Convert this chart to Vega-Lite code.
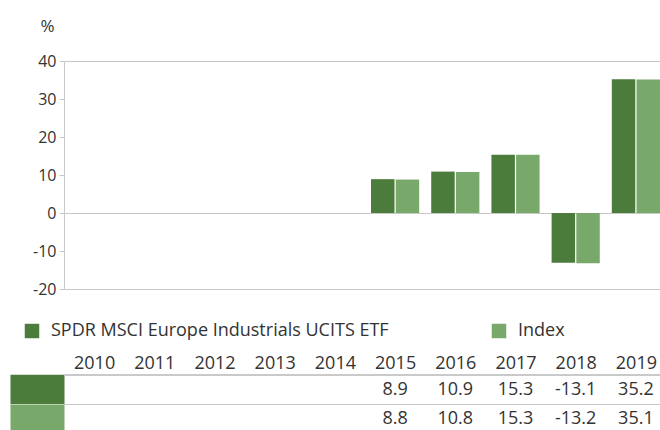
{
  "$schema": "https://vega.github.io/schema/vega-lite/v6.json",
  "padding": {"left": -5, "top": 17, "right": 0, "bottom": 0},
  "background": "white",
  "config": {
    "view": {"stroke": null},
    "font": "Open Sans",
    "text": {"font": "Open Sans"},
    "locale": {"number": {"decimal": ".", "thousands": ",", "grouping": [3], "currency": ["", ""], "minus": "-"}}
  },
  "datasets": {
    "perf": [
      {"year": "2015", "series": "SPDR MSCI Europe Industrials UCITS ETF", "value": 8.9},
      {"year": "2016", "series": "SPDR MSCI Europe Industrials UCITS ETF", "value": 10.9},
      {"year": "2017", "series": "SPDR MSCI Europe Industrials UCITS ETF", "value": 15.3},
      {"year": "2018", "series": "SPDR MSCI Europe Industrials UCITS ETF", "value": -13.1},
      {"year": "2019", "series": "SPDR MSCI Europe Industrials UCITS ETF", "value": 35.2},
      {"year": "2015", "series": "Index", "value": 8.8},
      {"year": "2016", "series": "Index", "value": 10.8},
      {"year": "2017", "series": "Index", "value": 15.3},
      {"year": "2018", "series": "Index", "value": -13.2},
      {"year": "2019", "series": "Index", "value": 35.1}
    ]
  },
  "spacing": 57,
  "vconcat": [
    {
      "width": 602,
      "height": 228,
      "data": {"name": "perf"},
      "mark": {"type": "bar"},
      "encoding": {
        "x": {
          "field": "year", "type": "ordinal",
          "scale": {"domain": ["2010","2011","2012","2013","2014","2015","2016","2017","2018","2019"], "paddingInner": 0.2, "paddingOuter": 0.1},
          "axis": null
        },
        "xOffset": {
          "field": "series", "type": "nominal",
          "scale": {"domain": ["SPDR MSCI Europe Industrials UCITS ETF", "Index"], "paddingInner": 0.05, "paddingOuter": 0}
        },
        "y": {
          "field": "value", "type": "quantitative",
          "scale": {"domain": [-20, 40], "nice": false, "zero": false},
          "axis": {
            "values": [-20, -10, 0, 10, 20, 30, 40],
            "format": "d",
            "title": "%",
            "titleAngle": 0,
            "titleX": -17,
            "titleY": -30,
            "titleAlign": "center",
            "titleBaseline": "alphabetic",
            "titleFontSize": 17,
            "titleFontWeight": "normal",
            "titleColor": "#333333",
            "titleFont": "Open Sans",
            "labelFont": "Open Sans",
            "labelFontSize": 16,
            "labelColor": "#333333",
            "labelPadding": 3,
            "tickSize": 5,
            "tickColor": "#c8c8c8",
            "domainColor": "#c8c8c8",
            "grid": true,
            "gridColor": "#c8c8c8",
            "gridOpacity": {"condition": {"test": "datum.value === 40 || datum.value === 0 || datum.value === -20", "value": 1}, "value": 0}
          }
        },
        "color": {
          "field": "series", "type": "nominal",
          "scale": {"domain": ["SPDR MSCI Europe Industrials UCITS ETF", "Index"], "range": ["#4b7c3b", "#79a86b"]},
          "legend": {
            "orient": "none",
            "legendX": -41,
            "legendY": 261,
            "direction": "horizontal",
            "title": null,
            "symbolType": "square",
            "symbolSize": 210,
            "symbolStrokeWidth": 0,
            "labelFont": "Open Sans",
            "labelFontSize": 18,
            "labelColor": "#333333",
            "labelOffset": 10,
            "labelLimit": 0,
            "columnPadding": 101
          }
        }
      }
    },
    {
      "width": 602,
      "height": 59,
      "data": {"name": "perf"},
      "layer": [
        {
          "mark": {"type": "rule", "color": "#c8c8c8", "strokeWidth": 1},
          "encoding": {
            "y": {
              "field": "series", "type": "nominal", "bandPosition": 0,
              "scale": {"domain": ["SPDR MSCI Europe Industrials UCITS ETF", "Index"], "paddingInner": 0, "paddingOuter": 0},
              "axis": {
                "title": null,
                "labels": false,
                "domain": false,
                "grid": false,
                "ticks": true,
                "tickSize": 54,
                "tickWidth": 29.5,
                "tickCap": "butt",
                "tickColor": {"condition": {"test": "datum.value === 'Index'", "value": "#79a86b"}, "value": "#4b7c3b"}
              }
            }
          }
        },
        {
          "mark": {"type": "text", "fontSize": 18, "color": "#333333", "font": "Open Sans"},
          "encoding": {
            "x": {
              "field": "year", "type": "ordinal",
              "scale": {"domain": ["2010","2011","2012","2013","2014","2015","2016","2017","2018","2019"], "paddingInner": 0.2, "paddingOuter": 0.1},
              "axis": {
                "orient": "top",
                "title": null,
                "labelAngle": 0,
                "labelFont": "Open Sans",
                "labelFontSize": 18,
                "labelColor": "#333333",
                "labelBaseline": "alphabetic",
                "labelPadding": 7,
                "ticks": false,
                "tickSize": 0,
                "domain": false,
                "grid": false
              }
            },
            "y": {
              "field": "series", "type": "nominal",
              "scale": {"domain": ["SPDR MSCI Europe Industrials UCITS ETF", "Index"], "paddingInner": 0, "paddingOuter": 0},
              "axis": {
                "title": null,
                "labels": false,
                "domain": false,
                "grid": false,
                "ticks": true,
                "tickSize": 54,
                "tickWidth": 29.5,
                "tickCap": "butt",
                "tickColor": {"condition": {"test": "datum.value === 'Index'", "value": "#79a86b"}, "value": "#4b7c3b"}
              }
            },
            "text": {"field": "value", "type": "nominal"}
          }
        }
      ]
    }
  ]
}
